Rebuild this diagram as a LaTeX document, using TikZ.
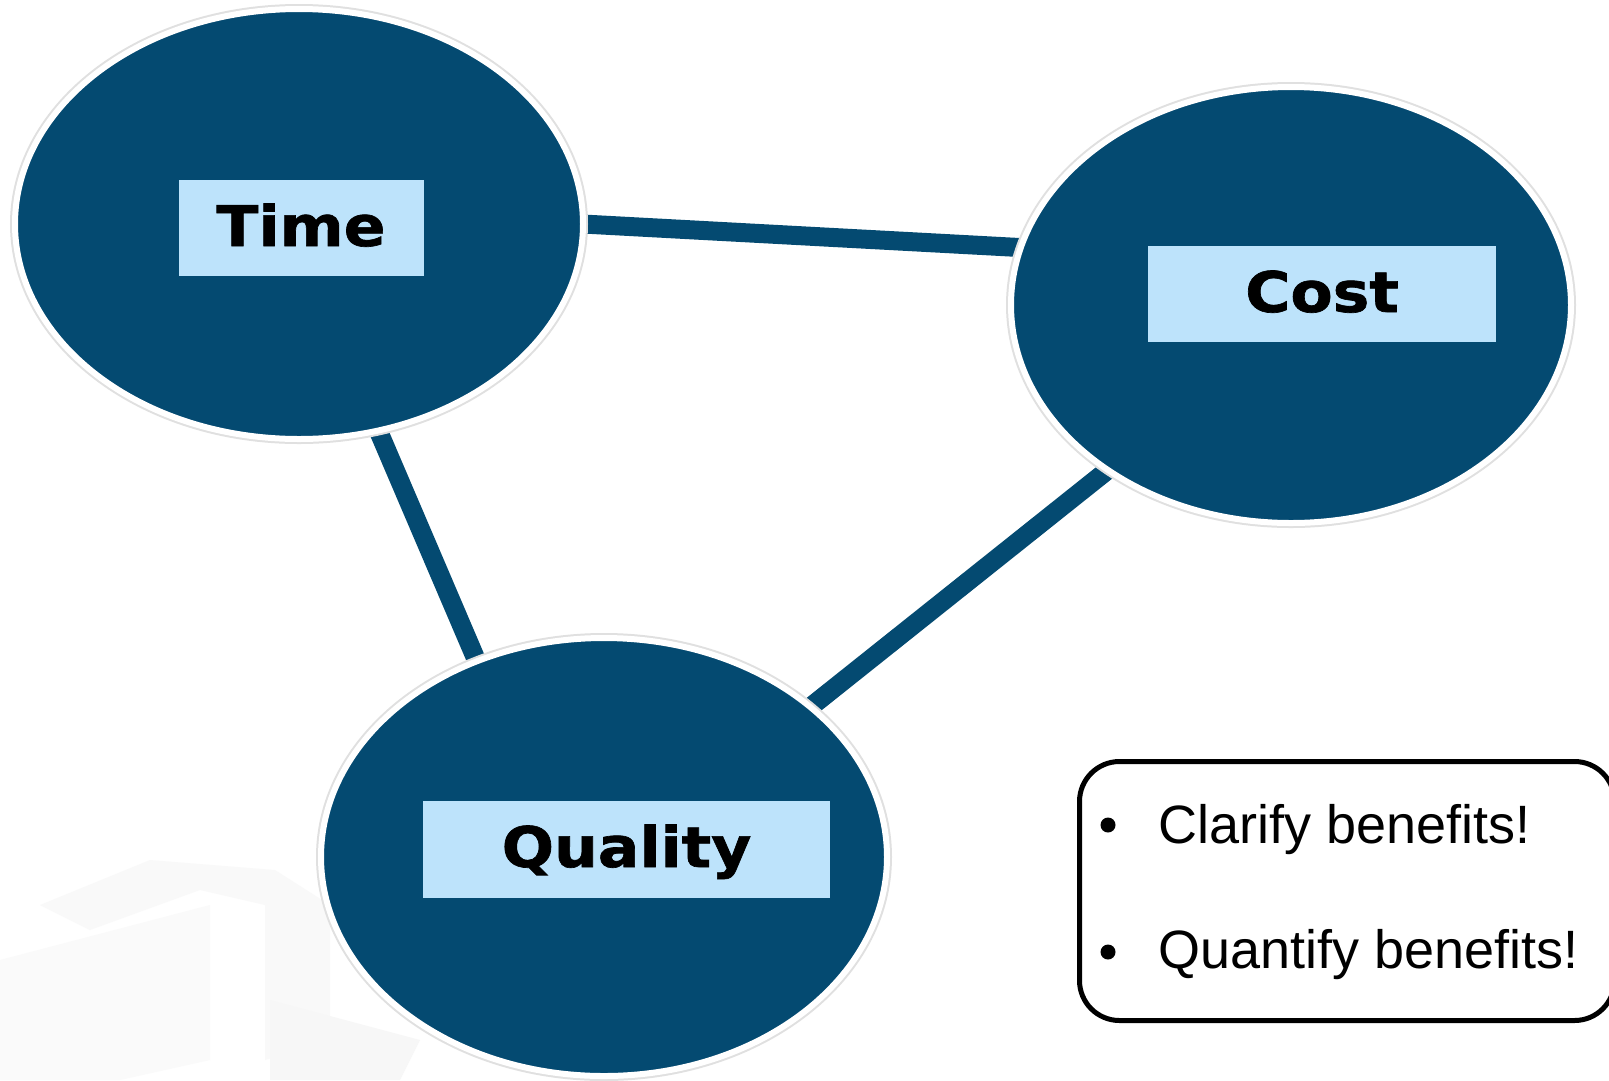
\documentclass[tikz,border=0pt]{standalone}
\usepackage{fontspec}
\setmainfont{Liberation Sans}
\newfontfamily\labelfont[FakeStretch=1.1, FakeBold=1.2]{DejaVu Sans Bold}
\usetikzlibrary{shapes.geometric,backgrounds}
\definecolor{navy}{RGB}{4,74,113}
\definecolor{lblue}{RGB}{189,227,251}
\begin{document}
\begin{tikzpicture}[x=1pt,y=-1pt,
  bubble/.style={ellipse, fill=navy, draw=white, line width=6pt, inner sep=0pt, outer sep=0pt,
    preaction={draw=black!12, line width=10pt}},
  labelbox/.style={fill=lblue, inner sep=0pt, outer sep=0pt, text height=41pt, text depth=5pt,
    minimum height=96pt, font=\labelfont\fontsize{56}{56}\selectfont},
  conn/.style={draw=navy, line width=19pt},
  bullettext/.style={anchor=base west, inner sep=0pt, font=\fontsize{54}{54}\selectfont},
  dot/.style={circle, fill=black, inner sep=0pt, minimum size=15pt},
  notebox/.style={draw=black, line width=5pt, rounded corners=40pt, fill=white, anchor=north west}]
\path[use as bounding box] (0,0) rectangle (1609,1080);

% ellipses
\node[bubble, minimum width=568pt, minimum height=430pt] (tE) at (299,224) {};
\node[bubble, minimum width=560pt, minimum height=436pt] (cE) at (1291,305) {};
\node[bubble, minimum width=566pt, minimum height=438pt] (qE) at (604,857) {};

% labels
\node[labelbox, minimum width=245pt] (time) at (301,228) {Time};
\node[labelbox, minimum width=348pt] (cost) at (1322,294) {Cost};
\node[labelbox, minimum width=407pt, minimum height=97pt] (quality) at (626.5,849) {Quality};

% note box
\node[notebox, minimum width=535pt, minimum height=259pt] (note) at (1077,759) {};
\node[dot] (d1) at (1108,825) {};
\node[dot] (d2) at (1108,952) {};
\node[bullettext] (b1) at (1158,843) {Clarify benefits!};
\node[bullettext] (b2) at (1158,968) {Quantify benefits!};

\begin{pgfonlayer}{background}
  \fill[white] (0,0) rectangle (1609,1080);
  % faint watermark
  \fill[black!2.5] (40,905) -- (150,860) -- (275,870) -- (330,905) -- (330,1040) -- (265,1060) -- (265,905) -- (200,890) -- (90,930) -- cycle;
  \fill[black!2] (0,960) -- (210,905) -- (210,1060) -- (120,1080) -- (0,1080) -- cycle;
  \fill[black!3] (270,1000) -- (420,1040) -- (400,1080) -- (270,1080) -- cycle;
  % connectors
  \draw[conn] (tE.0.5) -- (cE.168.5);
  \draw[conn] (tE.-69) -- (qE.123);
  \draw[conn] (cE.222) -- (qE.36);
\end{pgfonlayer}
\end{tikzpicture}
\end{document}
